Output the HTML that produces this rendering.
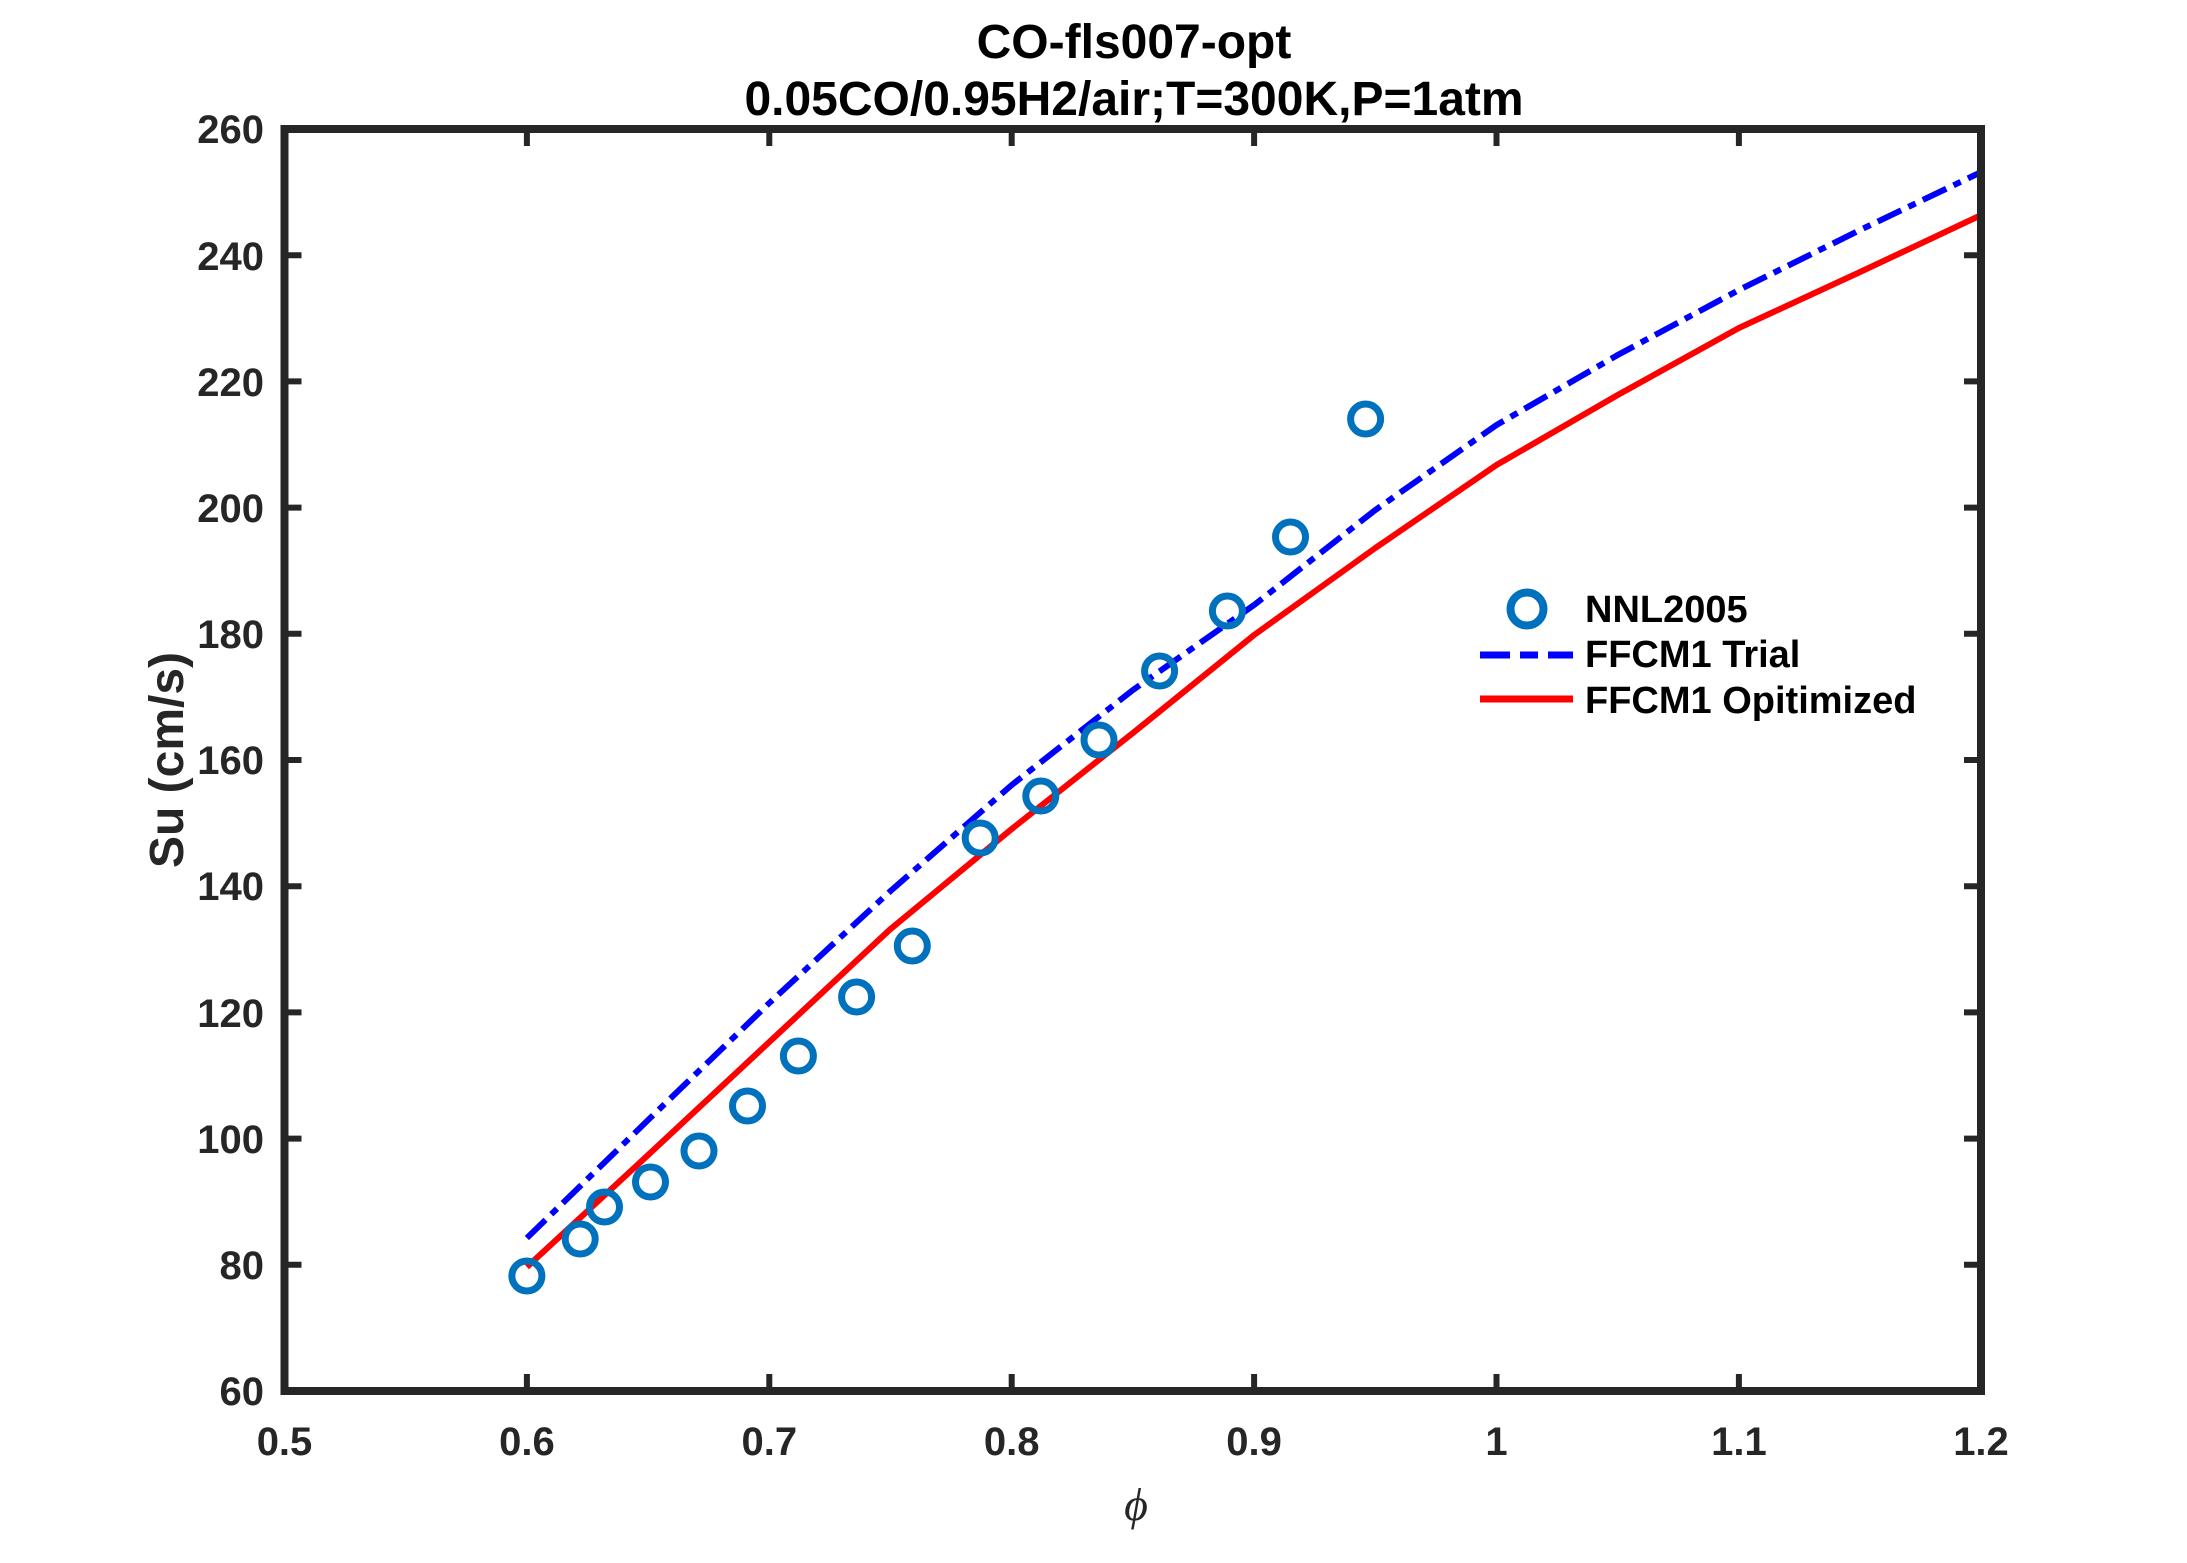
<!DOCTYPE html>
<html><head><meta charset="utf-8"><style>
html,body{margin:0;padding:0;background:#fff;}
svg{display:block;}
text{font-family:"Liberation Sans",Arial,sans-serif;font-weight:bold;}
</style></head><body>
<svg width="2187" height="1563" viewBox="0 0 2187 1563" xmlns="http://www.w3.org/2000/svg">
<rect width="2187" height="1563" fill="#fff"/>
<text x="1134" y="58" font-size="48" text-anchor="middle" fill="#000">CO-fls007-opt</text>
<text x="1134" y="115" font-size="48" text-anchor="middle" fill="#000">0.05CO/0.95H2/air;T=300K,P=1atm</text>
<g stroke="#262626" stroke-width="6">
<line x1="526.9" y1="1391" x2="526.9" y2="1374"/><line x1="769.3" y1="1391" x2="769.3" y2="1374"/><line x1="1011.7" y1="1391" x2="1011.7" y2="1374"/><line x1="1254.1" y1="1391" x2="1254.1" y2="1374"/><line x1="1496.5" y1="1391" x2="1496.5" y2="1374"/><line x1="1738.9" y1="1391" x2="1738.9" y2="1374"/>
<line x1="526.9" y1="129" x2="526.9" y2="146"/><line x1="769.3" y1="129" x2="769.3" y2="146"/><line x1="1011.7" y1="129" x2="1011.7" y2="146"/><line x1="1254.1" y1="129" x2="1254.1" y2="146"/><line x1="1496.5" y1="129" x2="1496.5" y2="146"/><line x1="1738.9" y1="129" x2="1738.9" y2="146"/>
<line x1="284.5" y1="1264.8" x2="301.5" y2="1264.8"/><line x1="284.5" y1="1138.6" x2="301.5" y2="1138.6"/><line x1="284.5" y1="1012.4" x2="301.5" y2="1012.4"/><line x1="284.5" y1="886.2" x2="301.5" y2="886.2"/><line x1="284.5" y1="760" x2="301.5" y2="760"/><line x1="284.5" y1="633.8" x2="301.5" y2="633.8"/><line x1="284.5" y1="507.6" x2="301.5" y2="507.6"/><line x1="284.5" y1="381.4" x2="301.5" y2="381.4"/><line x1="284.5" y1="255.2" x2="301.5" y2="255.2"/>
<line x1="1981" y1="1264.8" x2="1964" y2="1264.8"/><line x1="1981" y1="1138.6" x2="1964" y2="1138.6"/><line x1="1981" y1="1012.4" x2="1964" y2="1012.4"/><line x1="1981" y1="886.2" x2="1964" y2="886.2"/><line x1="1981" y1="760" x2="1964" y2="760"/><line x1="1981" y1="633.8" x2="1964" y2="633.8"/><line x1="1981" y1="507.6" x2="1964" y2="507.6"/><line x1="1981" y1="381.4" x2="1964" y2="381.4"/><line x1="1981" y1="255.2" x2="1964" y2="255.2"/>
</g>
<g font-size="40" fill="#262626" text-anchor="middle">
<text x="284.5" y="1455">0.5</text><text x="526.9" y="1455">0.6</text><text x="769.3" y="1455">0.7</text><text x="1011.7" y="1455">0.8</text><text x="1254.1" y="1455">0.9</text><text x="1496.5" y="1455">1</text><text x="1738.9" y="1455">1.1</text><text x="1981" y="1455">1.2</text>
</g>
<g font-size="40" fill="#262626" text-anchor="end">
<text x="264" y="1405">60</text><text x="264" y="1279">80</text><text x="264" y="1153">100</text><text x="264" y="1027">120</text><text x="264" y="900">140</text><text x="264" y="774">160</text><text x="264" y="648">180</text><text x="264" y="522">200</text><text x="264" y="396">220</text><text x="264" y="270">240</text><text x="264" y="143">260</text>
</g>
<text transform="translate(183,760) rotate(-90)" font-size="48" fill="#262626" text-anchor="middle">Su (cm/s)</text>
<text x="1136" y="1520" font-size="46" font-style="italic" fill="#262626" text-anchor="middle" style="font-family:'Liberation Serif',serif;font-weight:normal">ϕ</text>
<polyline fill="none" stroke="#ff0000" stroke-width="6" stroke-linejoin="round" points="526.9,1267 648.1,1155 769.3,1042 890.5,929 1011.7,829 1132.9,733 1254.1,635 1375.3,548 1496.5,465 1617.7,395 1738.9,328 1860.1,272 1981.3,215"/>
<polyline fill="none" stroke="#0000ff" stroke-width="6" stroke-dasharray="26 8 8 8" points="526.9,1238 648.1,1120 769.3,1003 890.5,891 1011.7,785 1132.9,690 1254.1,605 1375.3,510 1496.5,425 1617.7,355 1738.9,290 1860.1,230 1981.3,172"/>
<g fill="none" stroke="#0072BD" stroke-width="7">
<circle cx="526.9" cy="1276" r="15"/><circle cx="580.2" cy="1239" r="15"/><circle cx="604.5" cy="1207" r="15"/><circle cx="650.5" cy="1182" r="15"/><circle cx="699" cy="1151" r="15"/><circle cx="747.5" cy="1106" r="15"/><circle cx="798.4" cy="1056" r="15"/><circle cx="856.6" cy="997" r="15"/><circle cx="912.3" cy="946" r="15"/><circle cx="980.2" cy="838" r="15"/><circle cx="1040.8" cy="796" r="15"/><circle cx="1099" cy="740" r="15"/><circle cx="1159.6" cy="671" r="15"/><circle cx="1227.4" cy="611" r="15"/><circle cx="1290.5" cy="537" r="15"/><circle cx="1365.6" cy="419" r="15"/>
</g>
<rect x="284.5" y="129" width="1696.5" height="1262" fill="none" stroke="#262626" stroke-width="8"/>
<circle cx="1527" cy="609" r="16.5" fill="none" stroke="#0072BD" stroke-width="8"/>
<line x1="1480" y1="655" x2="1573" y2="655" stroke="#0000ff" stroke-width="7" stroke-dasharray="30 10 18 10"/>
<line x1="1480" y1="699" x2="1573" y2="699" stroke="#ff0000" stroke-width="7"/>
<g font-size="38" fill="#000">
<text x="1585" y="622">NNL2005</text>
<text x="1585" y="667">FFCM1 Trial</text>
<text x="1585" y="713">FFCM1 Opitimized</text>
</g>
</svg>
</body></html>
